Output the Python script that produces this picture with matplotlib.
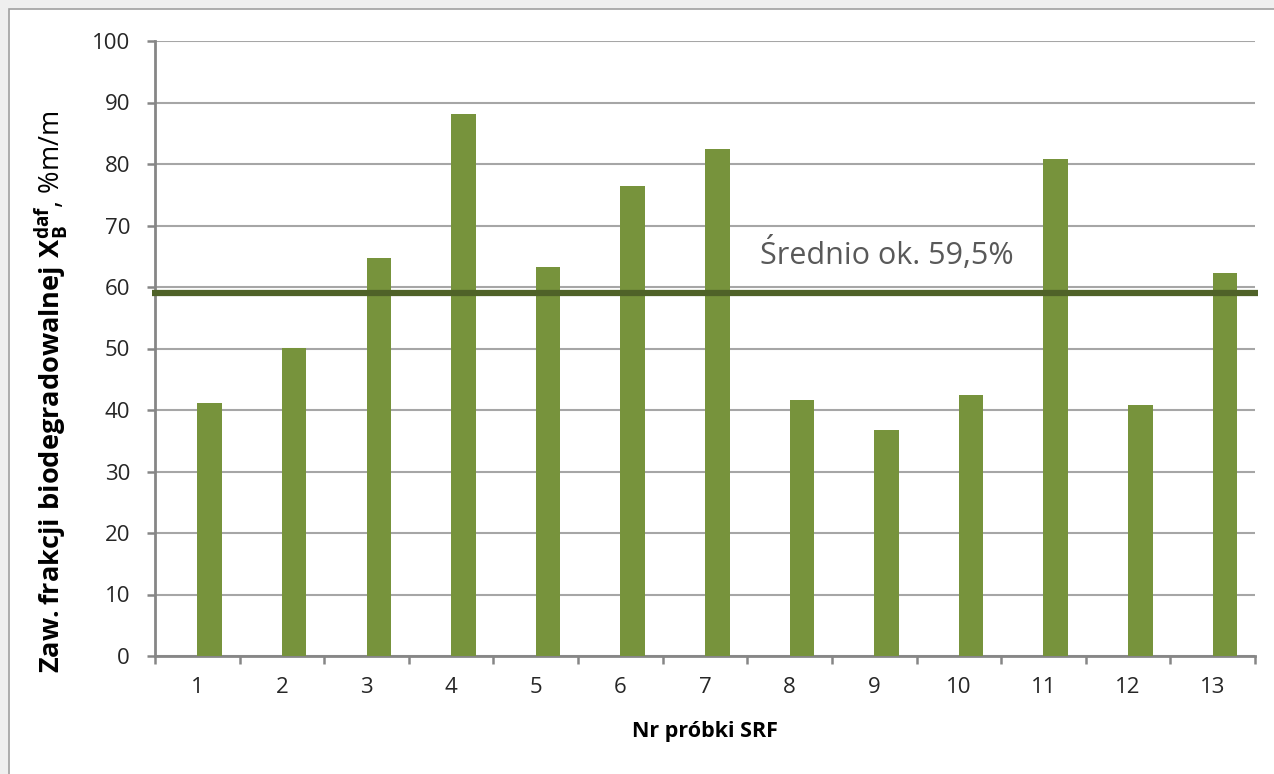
import matplotlib
matplotlib.use('Agg')
import matplotlib.pyplot as plt
from matplotlib.patches import Rectangle
from matplotlib.ticker import FixedLocator
import numpy as np

plt.rcParams['font.family'] = ['Open Sans', 'DejaVu Sans']
plt.rcParams['mathtext.fontset'] = 'custom'
plt.rcParams['mathtext.rm'] = 'Open Sans'
plt.rcParams['mathtext.bf'] = 'Open Sans:bold'

# data
samples = ['1', '2', '3', '4', '5', '6', '7', '8', '9', '10', '11', '12', '13']
values = [41.1, 50.1, 64.7, 88.1, 63.3, 76.4, 82.4, 41.6, 36.7, 42.4, 80.8, 40.8, 62.3]
mean_value = 59.0
mean_label = 'Średnio ok. 59,5%'
y_ticks = [0, 10, 20, 30, 40, 50, 60, 70, 80, 90, 100]

BAR = '#77933C'
MEAN = '#4F6228'
GRID = '#a6a6a6'
AXIS = '#868686'

fig = plt.figure(figsize=(12.74, 7.74), dpi=100)
fig.patch.set_facecolor('#efefef')
# white chart area with thin border
fig.patches.append(Rectangle((9 / 1274, -0.01), 1.0, 1 - 9 / 774 + 0.01,
                             transform=fig.transFigure, facecolor='white',
                             edgecolor='#a0a0a0', linewidth=1.2, zorder=-10))

ax = fig.add_axes([155 / 1274, 118 / 774, 1100 / 1274, 615 / 774])
ax.patch.set_alpha(0)
x = np.arange(len(samples))
# bars start at the category centre (as in the clustered Excel original)
ax.bar(x, values, width=0.29, align='edge', color=BAR, zorder=3)
ax.axhline(mean_value, xmin=-0.003, xmax=1.003, color=MEAN, linewidth=4.5,
           solid_capstyle='butt', zorder=4, clip_on=False)
ax.text(6.65, 65.3, mean_label, fontsize=22, color='#595959', va='center', ha='left')

ax.set_xlim(-0.5, len(samples) - 0.5)
ax.set_ylim(0, 100)
ax.set_yticks(y_ticks)
ax.set_xticks(x)
ax.set_xticklabels(samples)
ax.xaxis.set_minor_locator(FixedLocator(np.arange(-0.5, len(samples), 1.0)))
ax.tick_params(axis='x', which='major', length=0, pad=15, labelsize=16, colors='#262626')
ax.tick_params(axis='x', which='minor', length=6, width=1.8, color=AXIS, direction='out')
ax.tick_params(axis='y', length=6, width=1.8, color=AXIS, labelsize=16,
               labelcolor='#262626', pad=12)

ax.grid(axis='y', color=GRID, linewidth=1.5, zorder=0)
ax.set_axisbelow(True)
for s in ['top', 'right']:
    ax.spines[s].set_visible(False)
for s in ['left', 'bottom']:
    ax.spines[s].set_color(AXIS)
    ax.spines[s].set_linewidth(2)

ax.set_xlabel('Nr próbki SRF', fontsize=15.5, fontweight='bold', va='top')
ax.xaxis.set_label_coords(0.5, -0.106)
# mathtext adds its own space after the period
ax.set_ylabel(r'$\mathbf{Zaw.frakcji\ biodegradowalnej\ X_B^{daf}}$, %m/m',
              fontsize=19.5)
ax.yaxis.set_label_coords(-0.077, 0.43)

plt.savefig('out.png', dpi=100, facecolor=fig.get_facecolor())
